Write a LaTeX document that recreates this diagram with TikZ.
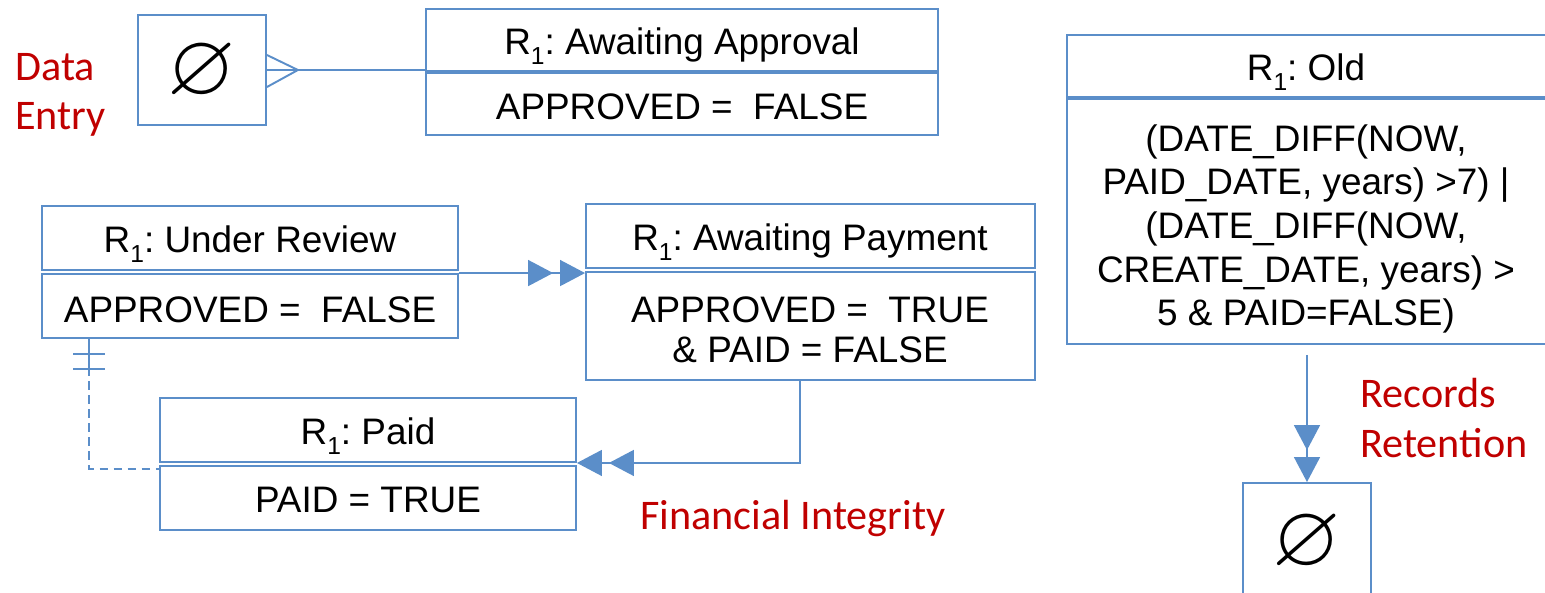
\documentclass[tikz,border=0pt]{standalone}
\usepackage{amssymb}
\usepackage{fontspec}
\setmainfont{Liberation Sans}
\newfontfamily\calibrifont{Carlito}
\usetikzlibrary{arrows.meta}
\definecolor{bl}{HTML}{5B8EC9}
\definecolor{rd}{HTML}{C00000}
\frenchspacing
\newcommand\Rsub{R\raisebox{-0.28em}{\fontsize{14}{14}\selectfont 1}}
\tikzset{
  boxpart/.style={draw=bl, line width=1.1pt, inner sep=0pt, rectangle},
  txt/.style={anchor=base, inner sep=0pt, font=\fontsize{21}{25}\selectfont},
  redtxt/.style={anchor=base west, inner sep=0pt, text=rd, font=\calibrifont\fontsize{24}{29}\selectfont},
  nullsym/.style={inner sep=0pt, font=\fontsize{50}{50}\selectfont},
  conn/.style={draw=bl, line width=1.1pt},
  dbl/.style={-{Triangle[length=14.2pt,width=14.7pt,sep=4pt]Triangle[length=14.2pt,width=14.7pt]}, draw=bl, line width=1.1pt},
}
\begin{document}
\begin{tikzpicture}[x=0.02cm,y=-0.02cm]
\useasboundingbox (0,0) rectangle (1545,592);
\clip (0,0) rectangle (1545,592);
% boxes
\node[boxpart, minimum width=2.56cm, minimum height=2.2cm] (es1) at (202,70) {};
\node[nullsym] (es1s) at (202,73) {$\varnothing$};
\node[boxpart, minimum width=10.24cm, minimum height=1.24cm] (aaT) at (682,40) {};
\node[boxpart, minimum width=10.24cm, minimum height=1.24cm] (aaB) at (682,104) {};
\node[boxpart, minimum width=8.32cm, minimum height=1.28cm] (urT) at (250,238) {};
\node[boxpart, minimum width=8.32cm, minimum height=1.28cm] (urB) at (250,306) {};
\node[boxpart, minimum width=8.98cm, minimum height=1.28cm] (apT) at (810.5,236) {};
\node[boxpart, minimum width=8.98cm, minimum height=2.16cm] (apB) at (810.5,326) {};
\node[boxpart, minimum width=8.32cm, minimum height=1.28cm] (pdT) at (368,430) {};
\node[boxpart, minimum width=8.32cm, minimum height=1.28cm] (pdB) at (368,498) {};
\node[boxpart, minimum width=9.86cm, minimum height=1.24cm] (oldT) at (1313.5,66) {};
\node[boxpart, minimum width=9.86cm, minimum height=4.9cm] (oldB) at (1313.5,221.5) {};
\node[boxpart, minimum width=2.56cm, minimum height=2.54cm] (es2) at (1307,546.5) {};
\node[nullsym] (es2s) at (1307,544) {$\varnothing$};
% texts
\node[txt] (aaTt) at (682,54) {\Rsub: Awaiting Approval};
\node[txt] (aaBt) at (682,119) {APPROVED = \ FALSE};
\node[txt] (urTt) at (250,252) {\Rsub: Under Review};
\node[txt] (urBt) at (250,322) {APPROVED = \ FALSE};
\node[txt] (apTt) at (810,250) {\Rsub: Awaiting Payment};
\node[txt] (apBt1) at (810,322) {APPROVED = \ TRUE};
\node[txt] (apBt2) at (810,362) {\& PAID = FALSE};
\node[txt] (pdTt) at (368,444) {\Rsub: Paid};
\node[txt] (pdBt) at (368,512) {PAID = TRUE};
\node[txt] (oldTt) at (1306,80) {\Rsub: Old};
\node[txt] (oldB1) at (1306,151) {(DATE\_DIFF(NOW,};
\node[txt] (oldB2) at (1306,194) {PAID\_DATE, years) >7) |};
\node[txt] (oldB3) at (1306,238) {(DATE\_DIFF(NOW,};
\node[txt] (oldB4) at (1306,282) {CREATE\_DATE, years) >};
\node[txt] (oldB5) at (1306,325) {5 \& PAID=FALSE)};
\node[redtxt] (de1) at (15,80) {Data};
\node[redtxt] (de2) at (15,129) {Entry};
\node[redtxt] (rr1) at (1360,407) {Records};
\node[redtxt] (rr2) at (1360,457) {Retention};
\node[redtxt] (fi) at (640,529) {Financial Integrity};
% connectors
\coordinate (cf) at ([xshift=0.62cm]es1.east);
\draw[conn] (es1.east) -- (es1.east -| aaT.west);
\draw[conn] ([yshift=0.3cm]es1.east) -- (cf) -- ([yshift=-0.34cm]es1.east);
\draw[dbl] (urB.north east) -- (urB.north east -| apB.west);
\draw[dbl] ([xshift=-0.21cm]apB.south) |- (pdT.south east);
\draw[dbl] ([yshift=-0.2cm]oldB.south -| es2.north) -- (es2.north);
\draw[conn, dash pattern=on 5pt off 3pt] ([xshift=0.96cm]urB.south west) |- ([yshift=-0.08cm]pdB.north west);
\draw[conn] ([xshift=0.96cm]urB.south west) -- ++(0,34);
\draw[conn] ([xshift=0.64cm,yshift=-0.3cm]urB.south west) -- ++(32,0);
\draw[conn] ([xshift=0.64cm,yshift=-0.6cm]urB.south west) -- ++(32,0);
\end{tikzpicture}
\end{document}
